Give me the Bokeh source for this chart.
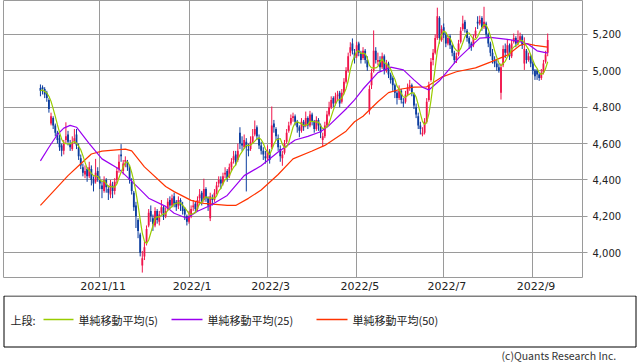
import numpy as np
import pandas as pd
from bokeh.plotting import figure
from bokeh.layouts import column
from bokeh.models import Range1d, FixedTicker, NumeralTickFormatter, ColumnDataSource
from bokeh.core.properties import value
from bokeh.embed import file_html
from bokeh.resources import INLINE

# ---- daily candles (trading-day index 0 = 2021/9/21) ----
opens = [
    4905,4910,4900,4880,4840,4710,4740,4700,4660,4630,
    4590,4560,4620,4650,4600,4570,4610,4650,4580,4520,
    4470,4430,4460,4420,4460,4400,4390,4450,4400,4370,
    4340,4400,4350,4320,4370,4340,4400,4460,4540,4450,
    4500,4500,4470,4390,4330,4260,4180,4100,3930,3980,
    4060,4150,4230,4190,4150,4230,4170,4220,4250,4200,
    4240,4290,4260,4310,4280,4260,4290,4260,4240,4200,
    4170,4200,4250,4270,4240,4300,4330,4290,4350,4300,
    4190,4300,4290,4330,4380,4400,4380,4430,4450,4420,
    4470,4510,4540,4510,4660,4600,4580,4610,4570,4570,
    4610,4650,4690,4630,4590,4560,4530,4520,4550,4580,
    4710,4680,4630,4570,4520,4550,4610,4670,4710,4740,
    4750,4720,4690,4670,4720,4700,4740,4700,4760,4720,
    4680,4730,4700,4620,4640,4700,4760,4800,4850,4820,
    4860,4880,4830,4880,4940,5000,5100,5150,5100,5080,
    5150,5100,5070,5110,5060,4780,4920,5000,5110,5050,
    5060,5020,5080,5000,5040,4980,4960,4920,4880,4850,
    4890,4830,4830,4870,4910,4920,4870,4800,4750,4700,
    4650,4660,4720,4840,4950,5060,5100,5180,5290,5170,
    5240,5200,5150,5190,5140,5100,5060,5090,5160,5230,
    5270,5220,5180,5150,5140,5190,5270,5260,5290,5240,
    5260,5200,5150,5100,5060,5040,5020,4880,5030,5120,
    5100,5140,5080,5160,5180,5150,5170,5190,5040,5110,
    5060,5080,5040,5000,5000,4980,4960,4990,5050,5100,
]
highs = [
    4925,4920,4910,4890,4850,4770,4750,4710,4670,4650,
    4600,4620,4717,4670,4620,4640,4680,4680,4600,4540,
    4490,4480,4470,4500,4480,4420,4516,4470,4420,4390,
    4420,4410,4370,4400,4390,4410,4470,4540,4597,4510,
    4530,4510,4480,4410,4340,4280,4190,4110,4010,4060,
    4150,4240,4260,4210,4250,4240,4230,4290,4260,4250,
    4300,4310,4320,4330,4290,4310,4300,4280,4250,4210,
    4230,4260,4290,4280,4310,4350,4340,4407,4360,4310,
    4330,4320,4350,4390,4420,4420,4440,4470,4460,4490,
    4520,4560,4560,4600,4690,4640,4650,4630,4600,4640,
    4680,4727,4700,4650,4610,4580,4560,4590,4570,4804,
    4730,4690,4650,4590,4560,4620,4680,4720,4760,4770,
    4760,4730,4700,4740,4730,4776,4750,4780,4770,4730,
    4750,4740,4710,4660,4720,4780,4830,4860,4860,4880,
    4890,4890,4900,4960,5020,5100,5157,5178,5120,5160,
    5160,5110,5130,5120,5080,4920,5010,5222,5130,5100,
    5080,5100,5090,5060,5050,4990,4970,4930,4890,4920,
    4900,4850,4890,4930,4950,4930,4880,4820,4770,4720,
    4690,4740,4850,4940,5070,5120,5200,5347,5300,5250,
    5260,5210,5200,5200,5150,5110,5100,5170,5240,5303,
    5280,5230,5190,5160,5200,5240,5300,5303,5300,5352,
    5270,5210,5160,5120,5080,5060,5040,5040,5140,5150,
    5170,5150,5170,5205,5190,5222,5210,5200,5184,5120,
    5100,5090,5050,5010,5010,4990,5010,5060,5110,5205,
]
lows = [
    4860,4870,4850,4830,4770,4700,4680,4640,4600,4560,
    4530,4540,4600,4590,4560,4560,4600,4570,4510,4460,
    4420,4410,4390,4410,4370,4337,4380,4390,4350,4300,
    4330,4330,4290,4300,4300,4320,4380,4440,4500,4430,
    4470,4450,4380,4320,4230,4136,4080,3980,3891,3960,
    4040,4140,4170,4120,4140,4160,4150,4210,4180,4190,
    4230,4240,4250,4250,4230,4240,4230,4210,4180,4150,
    4160,4190,4230,4220,4230,4280,4260,4280,4280,4230,
    4174,4260,4280,4320,4360,4350,4370,4410,4390,4410,
    4450,4490,4480,4500,4570,4560,4570,4337,4530,4560,
    4600,4640,4620,4570,4540,4510,4490,4510,4490,4570,
    4660,4620,4560,4500,4478,4540,4600,4660,4700,4720,
    4700,4660,4635,4660,4670,4690,4680,4690,4700,4660,
    4670,4670,4630,4581,4630,4690,4750,4790,4800,4810,
    4840,4800,4820,4870,4930,4990,5080,5090,5040,5070,
    5080,5040,5060,5040,5000,4760,4900,4990,5040,5030,
    5000,5010,4980,4990,4960,4930,4890,4850,4815,4840,
    4820,4800,4820,4860,4890,4860,4790,4740,4680,4650,
    4640,4650,4710,4830,4940,5030,5090,5170,5150,5160,
    5180,5130,5140,5120,5080,5040,5043,5080,5150,5220,
    5210,5160,5120,5110,5130,5180,5230,5250,5220,5230,
    5180,5130,5080,5040,5020,5000,4990,4842,5020,5070,
    5090,5060,5070,5150,5130,5140,5160,5120,5005,5040,
    5050,5020,4980,4950,4950,4945,4950,4980,5040,5080,
]
closes = [
    4890,4900,4870,4850,4790,4750,4700,4660,4620,4580,
    4560,4600,4640,4610,4580,4600,4630,4590,4530,4480,
    4440,4450,4420,4470,4400,4380,4440,4410,4380,4350,
    4400,4360,4330,4380,4340,4390,4450,4500,4530,4490,
    4510,4470,4400,4340,4250,4200,4120,4000,3970,4030,
    4130,4220,4200,4160,4230,4180,4210,4250,4200,4230,
    4280,4260,4300,4270,4250,4290,4260,4230,4210,4170,
    4200,4240,4260,4240,4290,4320,4280,4350,4300,4260,
    4310,4290,4330,4370,4400,4380,4420,4440,4410,4470,
    4500,4530,4500,4560,4600,4590,4620,4580,4560,4610,
    4640,4680,4640,4590,4560,4540,4520,4560,4510,4700,
    4690,4640,4580,4530,4540,4600,4660,4700,4740,4750,
    4720,4690,4670,4720,4690,4740,4700,4760,4720,4680,
    4730,4700,4660,4640,4700,4760,4800,4840,4820,4860,
    4870,4820,4880,4940,5000,5080,5130,5110,5070,5140,
    5100,5060,5110,5060,5020,4900,4990,5110,5060,5060,
    5020,5080,5000,5040,4980,4950,4920,4880,4850,4890,
    4840,4820,4870,4910,4920,4880,4810,4760,4700,4680,
    4660,4720,4830,4920,5050,5100,5180,5300,5180,5230,
    5200,5150,5180,5140,5100,5060,5080,5150,5220,5260,
    5230,5180,5150,5130,5180,5220,5260,5280,5240,5270,
    5200,5150,5100,5060,5040,5020,5000,5020,5120,5100,
    5140,5080,5150,5180,5150,5170,5190,5140,5120,5060,
    5080,5040,5000,4970,4980,4960,4990,5040,5090,5170,
]

# ---- moving averages (trading-day index, value) ----
ma25_idx = [0, 4, 8, 11, 14, 17, 20, 23, 29, 37, 45, 51, 59, 63, 69, 74, 80, 88, 96, 104, 112, 120,
            126, 132, 136, 144, 148, 152, 159, 165, 171, 176, 180, 183, 188, 197, 207, 212,
            220, 226, 230, 234, 239]
ma25_val = [4505, 4580, 4650, 4685, 4700, 4690, 4645, 4600, 4516, 4460, 4370, 4300, 4255, 4217,
            4190, 4228, 4260, 4315, 4424, 4478, 4554, 4620, 4640, 4665, 4700, 4790, 4840, 4900,
            4990, 5020, 5005, 4950, 4910, 4895, 4945, 5070, 5180, 5184, 5173, 5160, 5145, 5110,
            5097]
ma50_idx = [0, 13, 18, 24, 29, 40, 43, 49, 59, 63, 71, 77, 88, 92, 98, 104, 112, 119, 128, 134,
            144, 148, 152, 159, 164, 170, 176, 182, 189, 196, 205, 212, 220, 226, 229, 233, 239]
ma50_val = [4260, 4424, 4478, 4543, 4559, 4570, 4560, 4472, 4364, 4336, 4288, 4271, 4260, 4260,
            4299, 4345, 4430, 4516, 4559, 4590, 4668, 4720, 4750, 4830, 4880, 4900, 4910, 4912,
            4965, 4995, 5016, 5048, 5086, 5140, 5150, 5140, 5130]

# ---- axis labels ----
month_index = [28, 70, 107, 149, 190, 232]
month_labels = ["2021/11", "2022/1", "2022/3", "2022/5", "2022/7", "2022/9"]
price_ticks = [4000, 4200, 4400, 4600, 4800, 5000, 5200]
legend_title = "上段:"
legend_labels = ["単純移動平均(5)", "単純移動平均(25)", "単純移動平均(50)"]
copyright_text = "(c)Quants Research Inc."

UP = "#F0144B"
DOWN = "#0B3C9E"
C_MA5 = "#99CC00"
C_MA25 = "#9A00F0"
C_MA50 = "#FF3300"
GRID = "#9A9A9A"
LABEL_SHIFT = 1.5

idx = np.arange(len(closes))
o = np.array(opens, float)
c = np.array(closes, float)
src = ColumnDataSource(dict(
    x=idx, h=highs, l=lows,
    top=np.maximum(o, c), bottom=np.minimum(o, c),
    color=[UP if cc >= oo else DOWN for oo, cc in zip(o, c)],
))
ma5 = pd.Series(closes, dtype=float).rolling(5, min_periods=1).mean().values

p = figure(width=638, height=295, x_range=Range1d(-17.4, 255.4), y_range=Range1d(3864, 5386.5),
           output_backend="svg", toolbar_location=None, y_axis_location="right",
           min_border_left=3, min_border_right=56, min_border_top=0, min_border_bottom=15,
           frame_align=False)
p.outline_line_color = GRID
p.outline_line_width = 1
p.background_fill_color = "white"
p.border_fill_color = "white"

p.xgrid.ticker = FixedTicker(ticks=month_index)
p.ygrid.ticker = FixedTicker(ticks=price_ticks)
p.grid.grid_line_color = GRID
p.grid.grid_line_width = 1

xt = [m + LABEL_SHIFT for m in month_index]
p.xaxis.ticker = FixedTicker(ticks=xt)
p.xaxis.major_label_overrides = {t: lab for t, lab in zip(xt, month_labels)}
p.xaxis.axis_line_color = None
p.xaxis.major_tick_line_color = None
p.xaxis.minor_tick_line_color = None
p.xaxis.major_tick_in = 0
p.xaxis.major_tick_out = 0
p.xaxis.minor_tick_in = 0
p.xaxis.minor_tick_out = 0
p.xaxis.major_label_standoff = 2
p.xaxis.major_label_text_font = "DejaVu Sans"
p.xaxis.major_label_text_font_size = "11px"
p.xaxis.major_label_text_color = "#222222"

p.yaxis.ticker = FixedTicker(ticks=price_ticks)
p.yaxis.formatter = NumeralTickFormatter(format="0,0")
p.yaxis.axis_line_color = None
p.yaxis.major_tick_in = 0
p.yaxis.major_tick_out = 5
p.yaxis.minor_tick_in = 0
p.yaxis.minor_tick_out = 0
p.yaxis.major_tick_line_color = GRID
p.yaxis.minor_tick_line_color = None
p.yaxis.major_label_standoff = 5
p.yaxis.major_label_text_font = "DejaVu Sans"
p.yaxis.major_label_text_font_size = "10px"
p.yaxis.major_label_text_color = "#222222"

p.segment(x0="x", y0="l", x1="x", y1="h", line_color="color", line_width=1, source=src)
p.vbar(x="x", top="top", bottom="bottom", width=0.85, fill_color="color", line_color=None, source=src)

p.line(ma50_idx, ma50_val, line_color=C_MA50, line_width=1.2)
p.line(ma25_idx, ma25_val, line_color=C_MA25, line_width=1.2)
p.line(idx, ma5, line_color=C_MA5, line_width=1.2)

# ---- legend / footer panel ----
q = figure(width=638, height=67, x_range=Range1d(0, 638), y_range=Range1d(67, 0),
           output_backend="svg", toolbar_location=None, x_axis_location=None, y_axis_location=None,
           min_border=0, frame_align=False)
q.grid.visible = False
q.outline_line_color = None
q.background_fill_color = "white"
q.border_fill_color = "white"

q.quad(left=[3.5], right=[635.5], top=[0.5], bottom=[51.5], fill_color=None,
       line_color="black", line_width=1)
FONT = value("Noto Sans CJK JP")
q.text(x=[10], y=[24], text=[legend_title], text_font=FONT, text_font_size="11px",
       text_baseline="middle", text_color="#222222")
key_x = [(43, 73), (171, 202), (316, 347)]
lab_x = [78, 207, 352]
for (x0, x1), lx, lab, col in zip(key_x, lab_x, legend_labels, [C_MA5, C_MA25, C_MA50]):
    q.line([x0, x1], [24, 24], line_color=col, line_width=1.3)
    q.text(x=[lx], y=[24], text=[lab], text_font=FONT, text_font_size="11px",
           text_baseline="middle", text_color="#222222")
q.text(x=[501], y=[60], text=[copyright_text], text_font=FONT, text_font_size="10.5px",
       text_align="left", text_baseline="middle", text_color="#333333")

layout = column(p, q, spacing=0)

open("out.html", "w").write(file_html(layout, INLINE))
